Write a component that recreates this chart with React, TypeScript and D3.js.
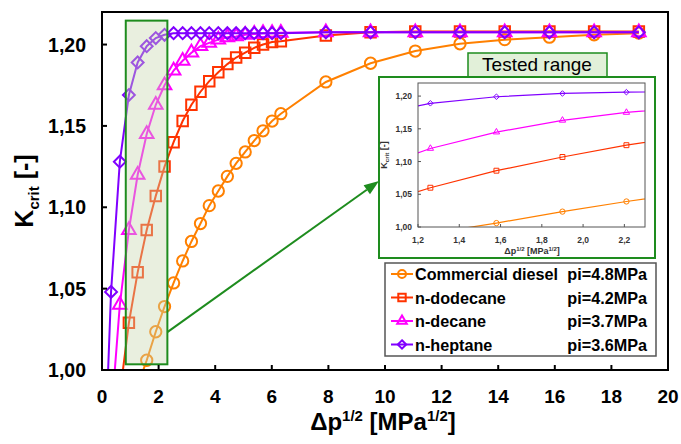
import React from "react";
import * as d3 from "d3";

// sqrt of pressure drop [MPa^1/2]
const sqrtDp = [0, 0.32, 0.63, 0.95, 1.26, 1.58, 1.9, 2.21, 2.53, 2.85, 3.16, 3.48, 3.79, 4.11, 4.43, 4.74, 5.06, 5.38, 5.69, 6.01, 6.32, 7.91, 9.49, 11.07, 12.65, 14.23, 15.81, 17.39, 18.97];

const kDiesel = [null, null, null, null, 0.99, 1.006, 1.0235, 1.039, 1.0535, 1.067, 1.079, 1.09, 1.101, 1.11, 1.119, 1.127, 1.134, 1.141, 1.147, 1.153, 1.1575, 1.177, 1.1885, 1.196, 1.2005, 1.203, 1.2045, 1.206, 1.207];
const kDodecane = [null, null, 0.985, 1.029, 1.06, 1.086, 1.107, 1.125, 1.14, 1.153, 1.163, 1.171, 1.1775, 1.183, 1.188, 1.192, 1.195, 1.198, 1.2, 1.2015, 1.202, 1.2055, 1.2075, 1.208, 1.208, 1.208, 1.208, 1.208, 1.208];
const kDecane = [null, 0.97, 1.04, 1.086, 1.12, 1.145, 1.163, 1.175, 1.184, 1.19, 1.195, 1.199, 1.201, 1.203, 1.2045, 1.205, 1.206, 1.2065, 1.207, 1.207, 1.2072, 1.2075, 1.2075, 1.2075, 1.2075, 1.2075, 1.2075, 1.2075, 1.2075];
const kHeptane = [0.9, 1.048, 1.128, 1.169, 1.189, 1.199, 1.204, 1.206, 1.207, 1.207, 1.207, 1.207, 1.207, 1.207, 1.207, 1.207, 1.207, 1.207, 1.207, 1.207, 1.207, 1.2075, 1.2075, 1.2075, 1.2075, 1.2075, 1.2075, 1.2075, 1.2075];

const seriesNames = ["Commercial diesel", "n-dodecane", "n-decane", "n-heptane"];
const injectionPressures = ["pi=4.8MPa", "pi=4.2MPa", "pi=3.7MPa", "pi=3.6MPa"];

const xTicks = [0, 2, 4, 6, 8, 10, 12, 14, 16, 18, 20];
const yTicks = [1.0, 1.05, 1.1, 1.15, 1.2];
const insetXTicks = [1.2, 1.4, 1.6, 1.8, 2.0, 2.2];
const insetYTicks = [1.0, 1.05, 1.1, 1.15, 1.2];
const testedRange = [0.84, 2.31];

const colors = ["#ff8000", "#ff3300", "#ff00ff", "#8000ff"];
const shapes = [d3.symbolCircle, d3.symbolSquare, d3.symbolTriangle, d3.symbolDiamond2];
const symbolSizes = [100, 110, 80, 90];

const fmt = (v) => v.toFixed(2).replace(".", ",");
const fmt1 = (v) => v.toFixed(1).replace(".", ",");

const W = 681;
const H = 444;

const App = () => {
  // main scales
  const x = d3.scaleLinear().domain([0, 20]).range([102, 668]);
  const y = d3.scaleLinear().domain([1.0, 1.22]).range([370, 12]);

  // inset scales
  const ix = d3.scaleLinear().domain([1.2, 2.3]).range([418, 645]);
  const iy = d3.scaleLinear().domain([1.0, 1.22]).range([227, 83]);

  const allK = [kDiesel, kDodecane, kDecane, kHeptane];
  const series = allK.map((ks, i) => ({
    name: seriesNames[i],
    color: colors[i],
    shape: shapes[i],
    size: symbolSizes[i],
    points: sqrtDp.map((d, j) => ({ x: d, k: ks[j] })).filter((p) => p.k != null),
  }));

  const line = d3.line().x((d) => x(d.x)).y((d) => y(d.k));
  const iline = d3.line().x((d) => ix(d.x)).y((d) => iy(d.k));

  const font = "Arial, 'Liberation Sans', sans-serif";

  // arrow from shaded box to inset
  const boxRight = x(testedRange[1]);
  const arrowStart = [boxRight, y(1.0233)];
  const arrowEnd = [379, 181];
  const ang = Math.atan2(arrowEnd[1] - arrowStart[1], arrowEnd[0] - arrowStart[0]);
  const headLen = 15;
  const headW = 5.5;
  const hb = [arrowEnd[0] - headLen * Math.cos(ang), arrowEnd[1] - headLen * Math.sin(ang)];
  const head = [
    arrowEnd,
    [hb[0] + headW * Math.sin(ang), hb[1] - headW * Math.cos(ang)],
    [hb[0] - headW * Math.sin(ang), hb[1] + headW * Math.cos(ang)],
  ];

  const legendY = [274, 297.5, 321, 344.5];

  return (
    <svg width={W} height={H} style={{ position: "absolute", left: 0, top: 0, background: "#fff" }} fontFamily={font}>
      <defs>
        <clipPath id="mainClip">
          <rect x={102} y={12} width={566} height={358} />
        </clipPath>
        <clipPath id="insetClip">
          <rect x={418} y={83} width={227} height={144} />
        </clipPath>
      </defs>

      {/* series */}
      <g clipPath="url(#mainClip)">
        {series.map((s) => (
          <g key={s.name}>
            <path d={line(s.points)} fill="none" stroke={s.color} strokeWidth={2} />
            {s.points.map((p, j) => (
              <path
                key={j}
                transform={`translate(${x(p.x)},${y(p.k)})`}
                d={d3.symbol(s.shape, s.size)()}
                fill="none"
                stroke={s.color}
                strokeWidth={2}
              />
            ))}
          </g>
        ))}
        {/* tested range */}
        <rect
          x={x(testedRange[0])}
          y={y(1.2147)}
          width={x(testedRange[1]) - x(testedRange[0])}
          height={y(1.0035) - y(1.2147)}
          fill="#c8d8b0"
          fillOpacity={0.4}
          stroke="#1e8c1e"
          strokeWidth={2}
        />
      </g>

      {/* arrow */}
      <line x1={arrowStart[0]} y1={arrowStart[1]} x2={hb[0]} y2={hb[1]} stroke="#1e8c1e" strokeWidth={2} />
      <polygon points={head.map((p) => p.join(",")).join(" ")} fill="#1e8c1e" />

      {/* frame */}
      <rect x={102} y={12} width={566} height={358} fill="none" stroke="#000" strokeWidth={2} />

      {/* x axis */}
      {xTicks.map((t) => (
        <g key={t}>
          <line x1={x(t)} x2={x(t)} y1={370} y2={365} stroke="#000" strokeWidth={2} />
          <text x={x(t)} y={403} textAnchor="middle" fontSize={19} fontWeight="bold">{t}</text>
        </g>
      ))}
      <text x={383} y={430} textAnchor="middle" fontSize={24} fontWeight="bold">
        Δp<tspan dy={-9} fontSize={15}>1/2</tspan>
        <tspan dy={9}> [MPa</tspan>
        <tspan dy={-9} fontSize={15}>1/2</tspan>
        <tspan dy={9}>]</tspan>
      </text>

      {/* y axis */}
      {yTicks.map((t) => (
        <g key={t}>
          <line x1={102} x2={107} y1={y(t)} y2={y(t)} stroke="#000" strokeWidth={2} />
          <text x={86} y={y(t) + 7} textAnchor="end" fontSize={19.5} fontWeight="bold">{fmt(t)}</text>
        </g>
      ))}
      <text transform="translate(33,191) rotate(-90)" textAnchor="middle" fontSize={25} fontWeight="bold">
        K<tspan dy={6} fontSize={15}>crit</tspan>
        <tspan dy={-6}> [-]</tspan>
      </text>

      {/* tested range label */}
      <rect x={468} y={53} width={139} height={24} fill="#e2f0d9" stroke="#1e8c1e" strokeWidth={1.5} />
      <text x={537} y={71} textAnchor="middle" fontSize={19}>Tested range</text>

      {/* inset */}
      <rect x={379} y={77} width={276} height={181} fill="#fff" stroke="#1e8c1e" strokeWidth={2} />
      <g clipPath="url(#insetClip)">
        {series.map((s) => (
          <g key={s.name}>
            <path d={iline(s.points)} fill="none" stroke={s.color} strokeWidth={1.2} />
            {s.points.map((p, j) => (
              <path
                key={j}
                transform={`translate(${ix(p.x)},${iy(p.k)})`}
                d={d3.symbol(s.shape, s.size * 0.22)()}
                fill="none"
                stroke={s.color}
                strokeWidth={1}
              />
            ))}
          </g>
        ))}
      </g>
      <rect x={418} y={83} width={227} height={144} fill="none" stroke="#555" strokeWidth={1} />
      {insetXTicks.map((t) => (
        <g key={t}>
          <line x1={ix(t)} x2={ix(t)} y1={227} y2={224} stroke="#555" />
          <text x={ix(t)} y={243} textAnchor="middle" fontSize={8.5} fontWeight="bold" fill="#333">{fmt1(t)}</text>
        </g>
      ))}
      {insetYTicks.map((t) => (
        <g key={t}>
          <line x1={418} x2={421} y1={iy(t)} y2={iy(t)} stroke="#555" />
          <text x={412} y={iy(t) + 3} textAnchor="end" fontSize={8.5} fontWeight="bold" fill="#333">{fmt(t)}</text>
        </g>
      ))}
      <text x={532} y={254} textAnchor="middle" fontSize={9} fontWeight="bold" fill="#333">
        Δp<tspan dy={-3} fontSize={6}>1/2</tspan>
        <tspan dy={3}> [MPa</tspan>
        <tspan dy={-3} fontSize={6}>1/2</tspan>
        <tspan dy={3}>]</tspan>
      </text>
      <text transform="translate(387,155) rotate(-90)" textAnchor="middle" fontSize={9} fontWeight="bold" fill="#333">
        K<tspan dy={2} fontSize={6}>crit</tspan>
        <tspan dy={-2}> [-]</tspan>
      </text>

      {/* legend */}
      <rect x={385} y={263} width={271} height={93} fill="#fff" stroke="#555" strokeWidth={1.5} />
      {series.map((s, i) => (
        <g key={s.name}>
          <line x1={391} x2={413} y1={legendY[i]} y2={legendY[i]} stroke={s.color} strokeWidth={2} />
          <path
            transform={`translate(402,${legendY[i]})`}
            d={d3.symbol(s.shape, s.size * 0.5)()}
            fill="none"
            stroke={s.color}
            strokeWidth={2}
          />
          <text x={415} y={legendY[i] + 6} fontSize={16.2} fontWeight="bold">{s.name}</text>
          <text x={647} y={legendY[i] + 6} textAnchor="end" fontSize={16.2} fontWeight="bold">{injectionPressures[i]}</text>
        </g>
      ))}
    </svg>
  );
};

export default App;
